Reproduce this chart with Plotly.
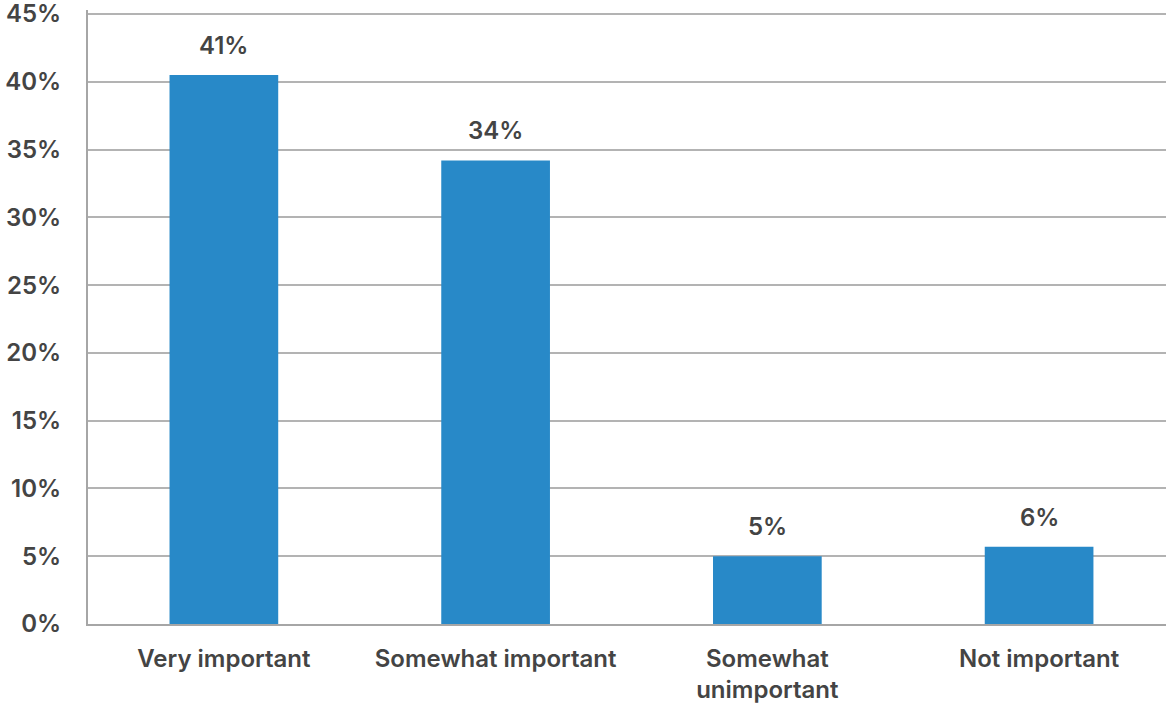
import plotly.graph_objects as go

categories = ["Very important", "Somewhat important", "Somewhat<br>unimportant", "Not important"]
values = [40.5, 34.2, 5.0, 5.7]
value_labels = ["41%", "34%", "5%", "6%"]
tick_vals = [0, 5, 10, 15, 20, 25, 30, 35, 40, 45]
tick_text = [f"{v}%" for v in tick_vals]

FONT = "Inter"
TXT = "#444444"
W = 600
FS = 24

fig = go.Figure(go.Bar(
    x=categories, y=values, marker_color="#2889C8", width=0.4,
    marker_line_width=0, hoverinfo="skip",
))

for c, v, t in zip(categories, values, value_labels):
    fig.add_annotation(x=c, y=v, text=t, showarrow=False,
                       yanchor="bottom", yshift=13,
                       font=dict(family=FONT, size=FS, color=TXT, weight=W))

fig.update_layout(
    width=1166, height=706,
    margin=dict(l=88, r=0, t=10, b=82),
    plot_bgcolor="white", paper_bgcolor="white",
    showlegend=False, bargap=0.6,
    font=dict(family=FONT, size=FS, color=TXT, weight=W),
)
fig.update_xaxes(
    automargin=False, range=[-0.5, 3.467],
    showline=True, linecolor="#a6a6a6", linewidth=2,
    tickfont=dict(family=FONT, size=FS, color=TXT, weight=W),
    ticks="outside", ticklen=12, tickcolor="rgba(0,0,0,0)",
)
fig.update_yaxes(
    automargin=False, ticklabeloverflow="allow",
    range=[0, 45.3], tickvals=tick_vals, ticktext=tick_text,
    showgrid=True, gridcolor="#b3b3b3", gridwidth=1.5,
    showline=True, linecolor="#a6a6a6", linewidth=2,
    zeroline=False,
    ticks="outside", ticklen=20, tickcolor="rgba(0,0,0,0)",
    tickfont=dict(family=FONT, size=FS, color=TXT, weight=W),
)

fig.write_html("out.html", config={"displayModeBar": False},
               post_script="document.body.style.margin='0';document.body.style.padding='0';")
